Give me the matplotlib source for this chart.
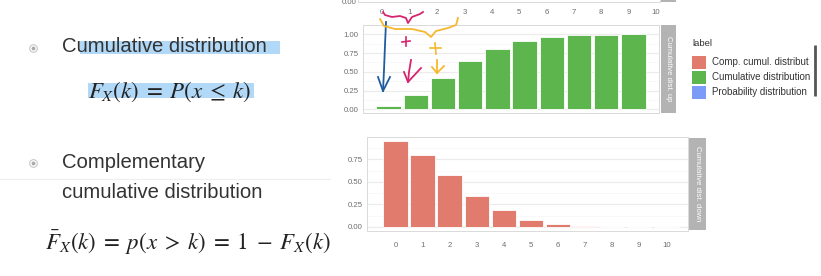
"""
Diapositiva: distribucion acumulada y complementaria (barras estilo ggplot)
"""

import numpy as np
import matplotlib.pyplot as plt

W, H = 821, 276

# datos
k_up = list(range(10))
cum_up = [0.046, 0.197, 0.415, 0.645, 0.81, 0.918, 0.965, 0.985, 0.995, 0.999]
k_down = list(range(11))
comp_down = [0.954, 0.80, 0.578, 0.348, 0.185, 0.08, 0.034, 0.012, 0.005, 0.0015, 0.0004]
k_top = list(range(11))
y_ticks = [0.0, 0.25, 0.5, 0.75, 1.0]
legend_labels = ["Comp. cumul. distribut", "Cumulative distribution", "Probability distribution"]
legend_colors = ["#E07B6E", "#5CB54D", "#7B9BF7"]

plt.rcParams['font.family'] = ['Liberation Sans', 'DejaVu Sans']
plt.rcParams['mathtext.fontset'] = 'stix'

fig = plt.figure(figsize=(W/100, H/100), dpi=100)
fig.patch.set_facecolor('white')

def ax_px(l, t, r, b, **kw):
	return fig.add_axes([l/W, 1-b/H, (r-l)/W, (b-t)/H], **kw)

def estilo(ax, ylim, yt):
	ax.set_ylim(*ylim)
	ax.set_yticks(yt)
	ax.set_yticklabels(["%.2f" % v for v in yt])
	ax.set_yticks([v + 0.125 for v in yt], minor=True)
	ax.grid(True, which='major', axis='y', color='#EBEBEB', lw=0.8, zorder=0)
	ax.grid(True, which='minor', axis='y', color='#F5F5F5', lw=0.5, zorder=0)
	ax.set_axisbelow(True)
	for s in ax.spines.values():
		s.set_color('#DADADA')
		s.set_linewidth(0.7)
	ax.tick_params(axis='both', which='both', length=0, labelsize=5.6, labelcolor='#6E6E6E', pad=3)

def strip(l, t, r, b, texto):
	s = ax_px(l, t, r, b)
	s.set_facecolor('#B3B3B3')
	s.set_xticks([]); s.set_yticks([])
	for sp in s.spines.values():
		sp.set_visible(False)
	s.text(0.5, 0.5, texto, rotation=-90, color='white', fontsize=5.5,
		   ha='center', va='center', transform=s.transAxes)

# grafico superior (cortado)
ax0 = ax_px(358, -88, 660, 2)
ax0.set_xlim(-0.89, 10.15)
estilo(ax0, (-0.05, 1.05), [0.0])
ax0.set_yticklabels([])
ax0.set_xticks(k_top)
ax0.tick_params(axis='x', pad=5)
strip(661, -88, 676, 2, "")

# acumulada
ax1 = ax_px(363, 25, 659, 113)
ax1.bar(k_up, cum_up, width=0.9, color=legend_colors[1], edgecolor='white', lw=0.6, zorder=2)
ax1.set_xlim(-0.945, 9.945)
estilo(ax1, (-0.05, 1.057), y_ticks)
ax1.set_xticks([])
strip(661, 25, 676, 113, "Cumulative dist. up")

# complementaria
ax2 = ax_px(367, 137, 688, 231)
ax2.bar(k_down, comp_down, width=0.9, color=legend_colors[0], edgecolor='white', lw=0.6, zorder=2)
ax2.set_xlim(-1.05, 10.8)
estilo(ax2, (-0.045, 1.0), y_ticks[:4])
ax2.set_xticks(k_down)
ax2.tick_params(axis='x', pad=8)
strip(689, 138, 706, 230, "Cumulative dist. down")

# capa de dibujo en pixeles
ov = fig.add_axes([0, 0, 1, 1], zorder=10)
ov.set_xlim(0, W); ov.set_ylim(H, 0)
ov.axis('off')
ov.patch.set_alpha(0)

# etiqueta 0.00 del grafico cortado
ov.text(357, 3, "0.00", fontsize=5.6, color='#6E6E6E', ha='right', va='center')

# leyenda
ov.text(692, 44, "label", fontsize=6.8, color='#333333', va='center')
for i, (lab, col) in enumerate(zip(legend_labels, legend_colors)):
	yc = 62 + i*15
	ov.add_patch(plt.Rectangle((692, yc-6.5), 14, 13, color=col, lw=0))
	ov.text(712, yc, lab, fontsize=7, color='#333333', va='center')
ov.plot([815, 815], [45, 96], color='#555555', lw=2, solid_capstyle='butt')

# texto de la diapositiva
ov.add_patch(plt.Rectangle((80, 41), 200, 13, color='#A9D5F7', lw=0, alpha=0.9))
ov.add_patch(plt.Rectangle((88, 83), 166, 15, color='#A9D5F7', lw=0, alpha=0.9))
for yb in [48, 163]:
	ov.plot([33], [yb], marker='o', ms=5.5, mfc='white', mec='#C8C8C8', mew=0.8)
	ov.plot([33], [yb], marker='o', ms=2.8, mfc='#AAAAAA', mec='none')
ov.text(62, 47, "Cumulative distribution", fontsize=14.6, color='#333333', va='center')
ov.text(88, 92, r"$F_X(k)\;=\;P(x\;\leq\;k)$", fontsize=16.5, color='#222222', va='center')
ov.text(62, 163, "Complementary", fontsize=14.6, color='#333333', va='center')
ov.text(62, 192, "cumulative distribution", fontsize=14.6, color='#333333', va='center')
ov.text(45, 243, r"$\bar{F}_X(k)\;=\;p(x\;>\;k)\;=\;1\;-\;F_X(k)$", fontsize=16.5, color='#222222', va='center')
ov.plot([0, 330], [179, 179], color='#EFEFEF', lw=0.8)

# anotaciones a mano
azul, rosa, amar = '#1F5C9E', '#D6246E', '#F5B82E'
ov.plot([386, 385, 384, 383], [22, 45, 70, 91], color=azul, lw=1.3)
ov.plot([378, 383, 390], [77, 91, 77], color=azul, lw=1.3)
ov.plot([383, 385, 392, 400, 406, 408, 412, 420, 423], [12, 15, 17, 16, 18, 23, 17, 14, 12], color=rosa, lw=1.3)
ov.plot([380, 384, 395, 412, 425, 431, 436, 448, 456, 458], [19, 26, 29, 29, 32, 37, 31, 28, 25, 18], color=amar, lw=1.3)
ov.plot([402, 410], [42, 41], color=rosa, lw=1.2)
ov.plot([406, 406], [37, 46], color=rosa, lw=1.2)
ov.plot([430, 441], [48, 48], color=amar, lw=1.2)
ov.plot([435, 436], [43, 54], color=amar, lw=1.2)
ov.plot([411, 409, 408], [60, 72, 82], color=rosa, lw=1.3)
ov.plot([404, 408, 421], [72, 82, 68], color=rosa, lw=1.3)
ov.plot([437, 437, 437], [60, 67, 73], color=amar, lw=1.3)
ov.plot([432, 437, 444], [67, 73, 66], color=amar, lw=1.3)

fig.savefig("out.png", dpi=100, facecolor='white')
